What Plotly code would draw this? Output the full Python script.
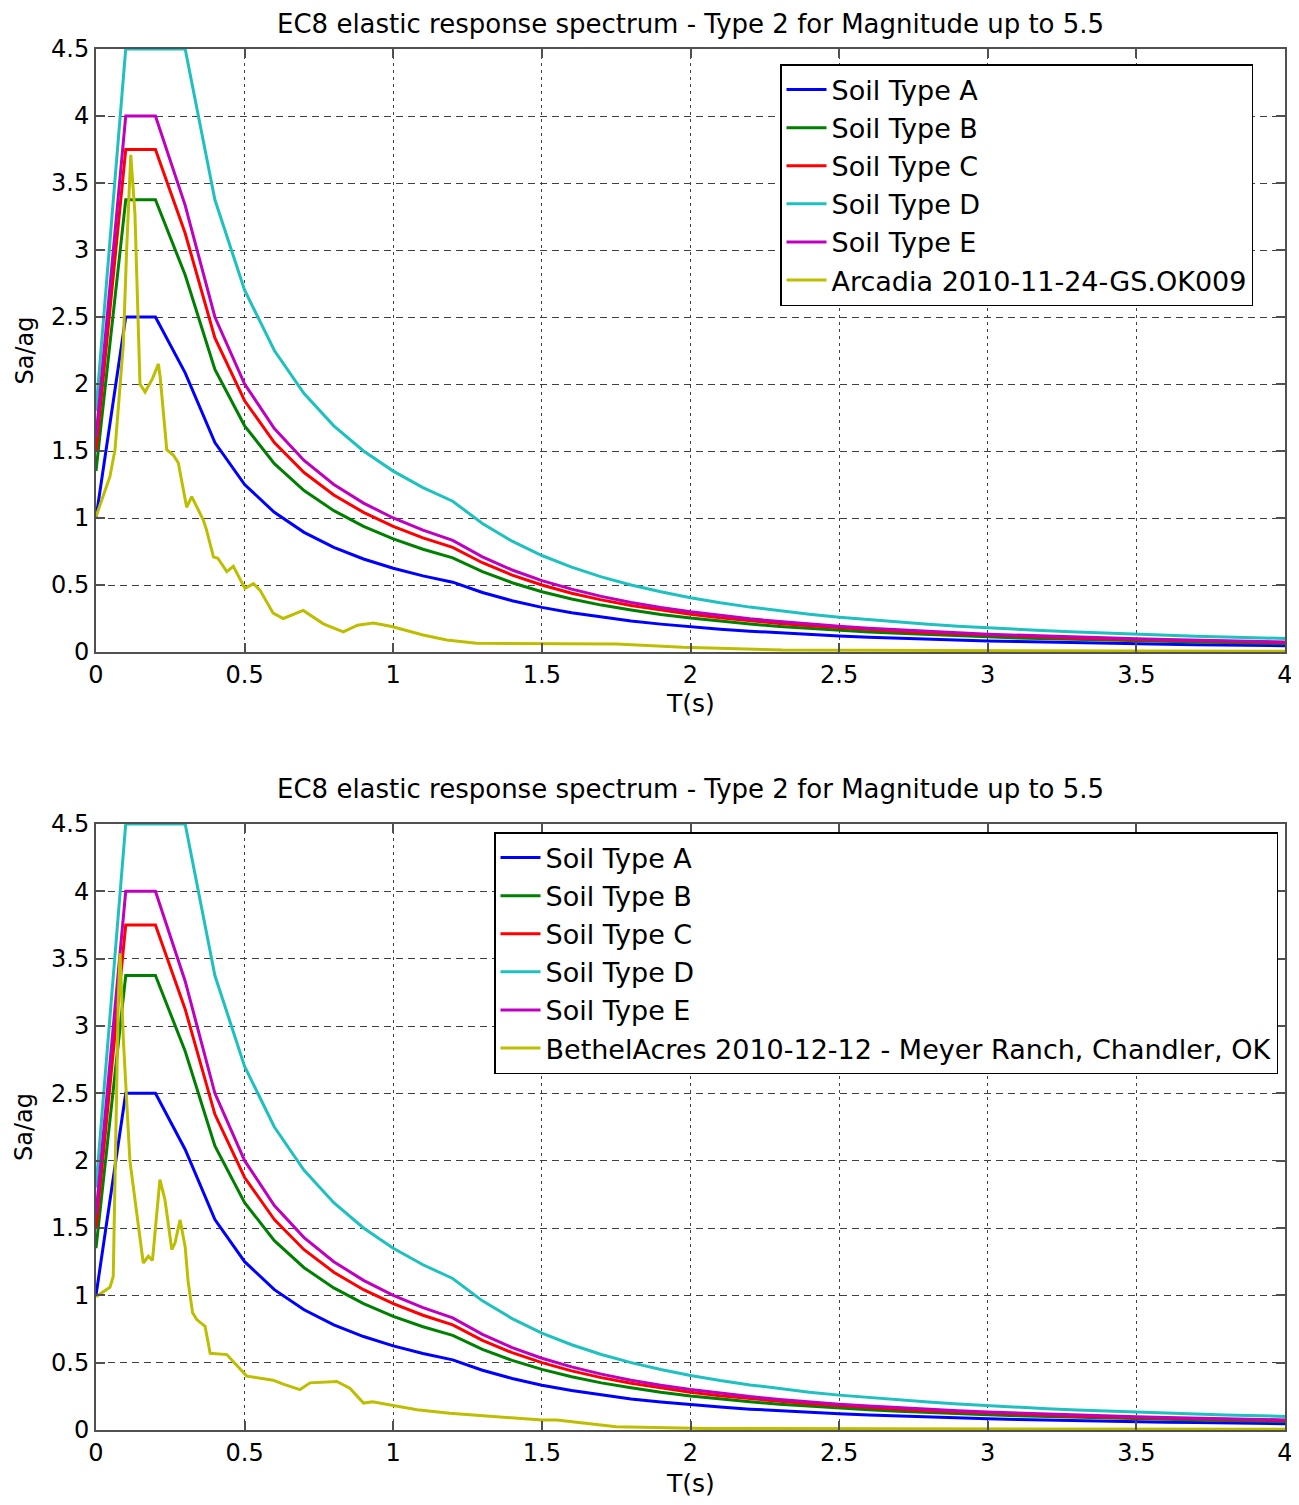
import plotly.graph_objects as go

# ---------------- data ----------------
T = [0.0, 0.1, 0.2, 0.3, 0.4, 0.5, 0.6, 0.7, 0.8, 0.9, 1.0,
     1.1, 1.2, 1.3, 1.4, 1.5, 1.6, 1.7, 1.8, 1.9, 2.0,
     2.1, 2.2, 2.3, 2.4, 2.5, 2.6, 2.7, 2.8, 2.9, 3.0,
     3.1, 3.2, 3.3, 3.4, 3.5, 3.6, 3.7, 3.8, 3.9, 4.0]

soil_A = [1.0, 2.5, 2.5, 2.083, 1.563, 1.25, 1.042, 0.893, 0.781, 0.694, 0.625,
          0.568, 0.521, 0.444, 0.383, 0.333, 0.293, 0.260, 0.231, 0.208, 0.188,
          0.170, 0.155, 0.142, 0.130, 0.120, 0.111, 0.103, 0.096, 0.089, 0.083,
          0.078, 0.073, 0.069, 0.065, 0.061, 0.058, 0.055, 0.052, 0.049, 0.047]
soil_B = [1.35, 3.375, 3.375, 2.813, 2.109, 1.688, 1.406, 1.205, 1.055, 0.938, 0.844,
          0.767, 0.703, 0.599, 0.517, 0.450, 0.396, 0.350, 0.313, 0.280, 0.253,
          0.230, 0.209, 0.191, 0.176, 0.162, 0.150, 0.139, 0.129, 0.120, 0.113,
          0.105, 0.099, 0.093, 0.088, 0.083, 0.078, 0.074, 0.070, 0.067, 0.063]
soil_C = [1.5, 3.75, 3.75, 3.125, 2.344, 1.875, 1.563, 1.339, 1.172, 1.042, 0.938,
          0.852, 0.781, 0.666, 0.574, 0.500, 0.439, 0.389, 0.347, 0.312, 0.281,
          0.255, 0.232, 0.213, 0.195, 0.180, 0.166, 0.154, 0.143, 0.134, 0.125,
          0.117, 0.110, 0.103, 0.097, 0.092, 0.087, 0.082, 0.078, 0.074, 0.070]
soil_D = [1.8, 4.5, 4.5, 4.5, 3.375, 2.7, 2.25, 1.929, 1.688, 1.5, 1.35,
          1.227, 1.125, 0.959, 0.827, 0.720, 0.633, 0.561, 0.500, 0.449, 0.405,
          0.367, 0.335, 0.306, 0.281, 0.259, 0.240, 0.222, 0.207, 0.193, 0.180,
          0.169, 0.158, 0.149, 0.140, 0.132, 0.125, 0.118, 0.112, 0.107, 0.101]
soil_E = [1.6, 4.0, 4.0, 3.333, 2.5, 2.0, 1.667, 1.429, 1.25, 1.111, 1.0,
          0.909, 0.833, 0.710, 0.612, 0.533, 0.469, 0.415, 0.370, 0.332, 0.300,
          0.272, 0.248, 0.227, 0.208, 0.192, 0.178, 0.165, 0.153, 0.143, 0.133,
          0.125, 0.117, 0.110, 0.104, 0.098, 0.093, 0.088, 0.083, 0.079, 0.075]

arcadia_T = [0.0, 0.047, 0.064, 0.092, 0.103, 0.117, 0.131, 0.148, 0.165, 0.19,
             0.21, 0.216, 0.238, 0.26, 0.277, 0.305, 0.322, 0.339, 0.361, 0.372,
             0.395, 0.41, 0.44, 0.462, 0.501, 0.53, 0.552, 0.596, 0.63, 0.697,
             0.765, 0.832, 0.88, 0.933, 0.995, 1.1, 1.18, 1.28, 1.5, 1.75,
             1.975, 2.31, 2.6, 3.0, 3.5, 4.0]
arcadia_Sa = [1.01, 1.31, 1.51, 2.3, 3.0, 3.71, 3.27, 2.0, 1.94, 2.04,
              2.15, 2.05, 1.51, 1.47, 1.41, 1.08, 1.16, 1.08, 0.985, 0.91,
              0.71, 0.70, 0.60, 0.64, 0.475, 0.51, 0.46, 0.29, 0.25, 0.31,
              0.21, 0.15, 0.20, 0.216, 0.19, 0.127, 0.09, 0.065, 0.063, 0.06,
              0.035, 0.015, 0.013, 0.01, 0.008, 0.005]

bethel_T = [0.0, 0.047, 0.058, 0.07, 0.075, 0.081, 0.092, 0.114, 0.159, 0.176,
            0.19, 0.215, 0.232, 0.255, 0.266, 0.283, 0.3, 0.31, 0.325, 0.339,
            0.367, 0.384, 0.44, 0.507, 0.54, 0.596, 0.63, 0.686, 0.72, 0.81,
            0.854, 0.9, 0.93, 0.995, 1.08, 1.19, 1.325, 1.5, 1.55, 1.75,
            2.05, 2.5, 3.0, 3.5, 4.0]
bethel_Sa = [0.99, 1.06, 1.14, 2.45, 3.19, 3.54, 2.9, 2.0, 1.24, 1.29,
             1.26, 1.86, 1.71, 1.34, 1.39, 1.56, 1.36, 1.1, 0.87, 0.82,
             0.77, 0.57, 0.56, 0.40, 0.39, 0.37, 0.34, 0.30, 0.35, 0.36,
             0.31, 0.20, 0.21, 0.185, 0.15, 0.124, 0.10, 0.074, 0.074, 0.025,
             0.012, 0.01, 0.008, 0.006, 0.005]

series_names = ["Soil Type A", "Soil Type B", "Soil Type C", "Soil Type D", "Soil Type E"]
series_vals = [soil_A, soil_B, soil_C, soil_D, soil_E]
series_colors = ["#0000FF", "#008000", "#FF0000", "#1EC0C0", "#BF00BF"]
record_color = "#BEBE00"

title_text = "EC8 elastic response spectrum - Type 2 for Magnitude up to 5.5"
records = [("Arcadia 2010-11-24-GS.OK009", arcadia_T, arcadia_Sa),
           ("BethelAcres 2010-12-12 - Meyer Ranch, Chandler, OK", bethel_T, bethel_Sa)]

# ---------------- figure ----------------
FONT = "DejaVu Sans"
fig = go.Figure()

for i, (rec_name, rT, rS) in enumerate(records):
    xa = "x" if i == 0 else "x2"
    ya = "y" if i == 0 else "y2"
    lg = "legend" if i == 0 else "legend2"
    for name, vals, col in zip(series_names, series_vals, series_colors):
        fig.add_trace(go.Scatter(x=T, y=vals, mode="lines", name=name,
                                 line=dict(color=col, width=3),
                                 xaxis=xa, yaxis=ya, legend=lg))
    fig.add_trace(go.Scatter(x=rT, y=rS, mode="lines", name=rec_name,
                             line=dict(color=record_color, width=3),
                             xaxis=xa, yaxis=ya, legend=lg))

# page offset of the plot div (default body margin)
OFF = 8
W, H = 1291, 1489
# plot area positions in page pixels
PX0, PX1 = 96, 1285
TOP_Y0, TOP_Y1 = 49, 652
BOT_Y0, BOT_Y1 = 824, 1430

L = PX0 - OFF
R = W - (PX1 - OFF)
TOP = TOP_Y0 - OFF
B = H - (BOT_Y1 - OFF)
plot_h = H - TOP - B
plot_w = W - L - R


def py2paper(py):
    return (H - B - (py - OFF)) / plot_h


def px2paper(px):
    return (px - OFF - L) / plot_w


axis_common = dict(
    showgrid=True, gridcolor="#404040", gridwidth=1.2,
    showline=True, linecolor="#505050", linewidth=2, mirror="ticks",
    ticks="inside", ticklen=9, tickwidth=2, tickcolor="#505050",
    zeroline=False, automargin=False,
    tickfont=dict(family=FONT, size=24, color="black"),
)

top_dom = [py2paper(TOP_Y1), 1.0]
bot_dom = [0.0, py2paper(BOT_Y0)]

leg_common = dict(xanchor="right", yanchor="top",
                  bgcolor="white", bordercolor="black", borderwidth=1.5,
                  font=dict(family=FONT, size=27, color="black"),
                  itemwidth=40, tracegroupgap=0)

fig.update_layout(
    width=W, height=H,
    margin=dict(l=L, r=R, t=TOP, b=B, autoexpand=False),
    paper_bgcolor="white", plot_bgcolor="white",
    font=dict(family=FONT, color="black"),
    xaxis=dict(domain=[0, 1], range=[0, 4], dtick=0.5, anchor="y",
               griddash="3px,4px", **axis_common),
    yaxis=dict(domain=top_dom, range=[0, 4.5], dtick=0.5, anchor="x",
               griddash="7px,5px", **axis_common),
    xaxis2=dict(domain=[0, 1], range=[0, 4], dtick=0.5, anchor="y2",
                griddash="3px,4px", **axis_common),
    yaxis2=dict(domain=bot_dom, range=[0, 4.5], dtick=0.5, anchor="x2",
                griddash="7px,5px", **axis_common),
    legend=dict(x=px2paper(1253), y=py2paper(64), **leg_common),
    legend2=dict(x=px2paper(1278), y=py2paper(832), **leg_common),
    showlegend=True,
)

ann = []
for title_py, xlab_py, top_py, bot_py in [(24, 703, TOP_Y0, TOP_Y1), (789, 1483, BOT_Y0, BOT_Y1)]:
    ann.append(dict(text=title_text, x=0.5, y=py2paper(title_py), xref="paper", yref="paper",
                    xanchor="center", yanchor="middle", showarrow=False,
                    font=dict(family=FONT, size=26, color="black")))
    ann.append(dict(text="T(s)", x=0.5, y=py2paper(xlab_py), xref="paper", yref="paper",
                    xanchor="center", yanchor="middle", showarrow=False,
                    font=dict(family=FONT, size=25, color="black")))
    ann.append(dict(text="Sa/ag", x=px2paper(24), y=py2paper((top_py + bot_py) / 2),
                    xref="paper", yref="paper", xanchor="center", yanchor="middle",
                    textangle=-90, showarrow=False,
                    font=dict(family=FONT, size=24, color="black")))
fig.update_layout(annotations=ann)

fig.write_html("out.html")
